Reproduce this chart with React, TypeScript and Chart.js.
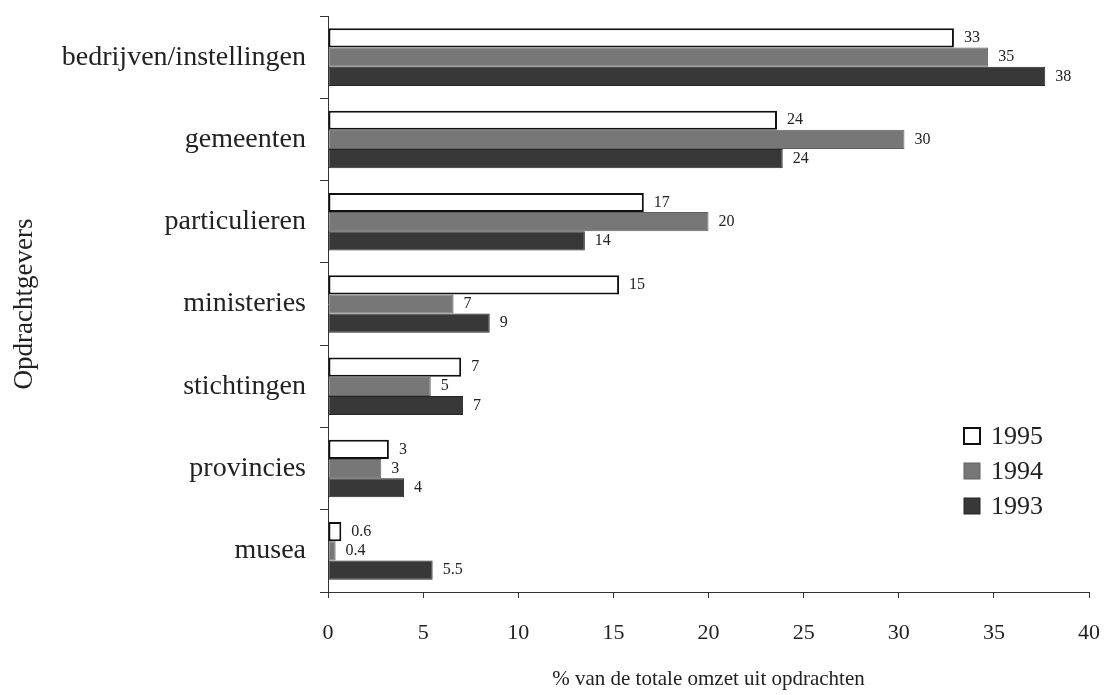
import React, { useEffect, useRef } from "react";
import { Chart, registerables } from "chart.js";

Chart.register(...registerables);

const categories = [
  "bedrijven/instellingen",
  "gemeenten",
  "particulieren",
  "ministeries",
  "stichtingen",
  "provincies",
  "musea",
];
const seriesNames = ["1995", "1994", "1993"];
const values1995 = [32.9, 23.6, 16.6, 15.3, 7.0, 3.2, 0.7];
const values1994 = [34.7, 30.3, 20.0, 6.6, 5.4, 2.8, 0.4];
const values1993 = [37.7, 23.9, 13.5, 8.5, 7.1, 4.0, 5.5];
const labels1995 = ["33", "24", "17", "15", "7", "3", "0.6"];
const labels1994 = ["35", "30", "20", "7", "5", "3", "0.4"];
const labels1993 = ["38", "24", "14", "9", "7", "4", "5.5"];
const xTitle = "% van de totale omzet uit opdrachten";
const yTitle = "Opdrachtgevers";

const FONT = "'Liberation Serif', 'Times New Roman', serif";
const TEXT = "#222";

const valueLabelPlugin = {
  id: "valueLabels",
  afterDatasetsDraw(chart: any) {
    const ctx = chart.ctx;
    const allLabels = [labels1995, labels1994, labels1993];
    ctx.save();
    ctx.font = `16px ${FONT}`;
    ctx.fillStyle = TEXT;
    ctx.textAlign = "left";
    ctx.textBaseline = "middle";
    chart.data.datasets.forEach((_: any, di: number) => {
      const meta = chart.getDatasetMeta(di);
      meta.data.forEach((bar: any, i: number) => {
        ctx.fillText(allLabels[di][i], bar.x + 10, bar.y);
      });
    });
    ctx.restore();
  },
};

const legendPlugin = {
  id: "insideLegend",
  afterDraw(chart: any) {
    const ctx = chart.ctx;
    ctx.save();
    ctx.font = `26px ${FONT}`;
    ctx.textAlign = "left";
    ctx.textBaseline = "middle";
    chart.data.datasets.forEach((ds: any, i: number) => {
      const cy = 436 + i * 35;
      const x = 964;
      const s = 16;
      ctx.fillStyle = ds.backgroundColor;
      ctx.fillRect(x, cy - s / 2, s, s);
      ctx.lineWidth = ds.borderWidth;
      ctx.strokeStyle = ds.borderColor;
      ctx.strokeRect(x, cy - s / 2, s, s);
      ctx.fillStyle = TEXT;
      ctx.fillText(ds.label, 991, cy + 1);
    });
    ctx.restore();
  },
};

export default function App() {
  const ref = useRef<HTMLCanvasElement>(null);
  useEffect(() => {
    document.body.style.margin = "0";
    const chart = new Chart(ref.current!, {
      type: "bar",
      data: {
        labels: categories,
        datasets: [
          {
            label: seriesNames[0],
            data: values1995,
            backgroundColor: "#ffffff",
            borderColor: "#111111",
            borderWidth: 2,
            borderSkipped: false,
          },
          {
            label: seriesNames[1],
            data: values1994,
            backgroundColor: "#777777",
            borderColor: "#606060",
            borderWidth: 1,
            borderSkipped: false,
          },
          {
            label: seriesNames[2],
            data: values1993,
            backgroundColor: "#383838",
            borderColor: "#262626",
            borderWidth: 1,
            borderSkipped: false,
          },
        ],
      },
      options: {
        indexAxis: "y",
        responsive: false,
        animation: false,
        layout: { padding: { top: 16, right: 16, left: 0, bottom: 0 } },
        datasets: { bar: { categoryPercentage: 0.7, barPercentage: 1.0 } },
        plugins: {
          legend: { display: false },
          tooltip: { enabled: false },
        },
        scales: {
          x: {
            min: 0,
            max: 40,
            ticks: {
              stepSize: 5,
              color: TEXT,
              font: { family: FONT, size: 22 },
              padding: 22,
            },
            grid: { drawOnChartArea: false, tickLength: 6, color: "#333" },
            border: { color: "#333", width: 1 },
            title: {
              display: true,
              text: xTitle,
              color: TEXT,
              font: { family: FONT, size: 21 },
              padding: { top: 0, bottom: 3 },
            },
            afterFit: (s: any) => {
              s.height = 103;
              s.paddingLeft = 0;
              s.paddingRight = 0;
            },
          },
          y: {
            ticks: {
              color: TEXT,
              font: { family: FONT, size: 28 },
              padding: 14,
            },
            grid: { drawOnChartArea: false, tickLength: 8, color: "#333", offset: true },
            border: { color: "#333", width: 1 },
            title: {
              display: true,
              text: yTitle,
              color: TEXT,
              font: { family: FONT, size: 27 },
              padding: { top: 9, bottom: 0 },
            },
            afterFit: (s: any) => {
              s.width = 328;
              s.paddingTop = 0;
              s.paddingBottom = 0;
            },
          },
        },
      },
      plugins: [valueLabelPlugin, legendPlugin],
    } as any);
    return () => chart.destroy();
  }, []);
  return (
    <div style={{ position: "absolute", left: 0, top: 0, width: 1105, height: 695, background: "#fff" }}>
      <canvas ref={ref} width={1105} height={695} style={{ width: 1105, height: 695 }} />
    </div>
  );
}
